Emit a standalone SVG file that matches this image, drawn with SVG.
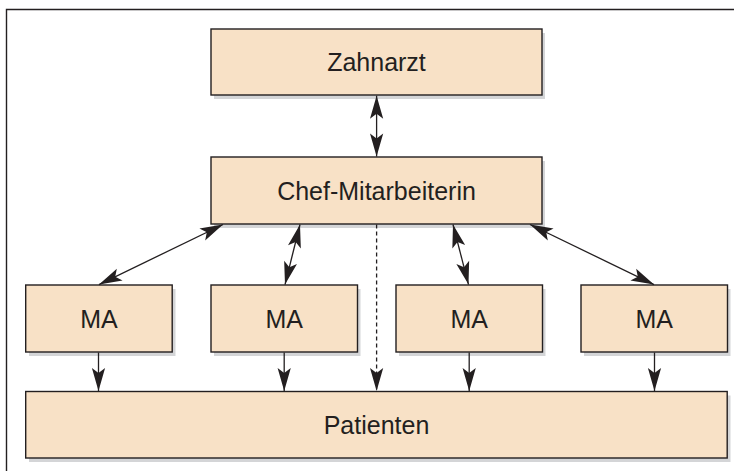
<svg xmlns="http://www.w3.org/2000/svg" width="734" height="471" viewBox="0 0 734 471">
<style>
.box{fill:#f8e1c6;stroke:#231f20;stroke-width:1.4}
.shadow{fill:#d4d5d7}
.lbl{font-family:"Liberation Sans",Arial,sans-serif;font-size:25px;fill:#231f20;text-anchor:middle}
.con{stroke:#231f20;stroke-width:1.3;fill:none}
.dash{stroke-dasharray:4,3}
</style>
<defs>
<marker id="ah" markerUnits="userSpaceOnUse" viewBox="-24 -8 25 16" refX="0" refY="0" markerWidth="25" markerHeight="16" orient="auto-start-reverse">
<path d="M0,0 L-23,-6.6 L-18,0 L-23,6.6 Z" fill="#231f20"/>
</marker>
</defs>
<rect width="734" height="471" fill="#ffffff"/>
<g id="frame">
<path d="M6.5,471 L6.5,9.5 L734,9.5" fill="none" stroke="#231f20" stroke-width="1.4"/>
</g>
<g id="zahnarzt">
<rect class="shadow" x="214" y="33" width="331" height="66"/>
<rect class="box" x="211" y="29" width="331" height="66"/>
<text class="lbl" x="376.5" y="71">Zahnarzt</text>
</g>
<g id="chef">
<rect class="shadow" x="214" y="161" width="331" height="67"/>
<rect class="box" x="211" y="157" width="331" height="67"/>
<text class="lbl" x="376.5" y="200">Chef-Mitarbeiterin</text>
</g>
<g id="ma1">
<rect class="shadow" x="29" y="289" width="146.5" height="67"/>
<rect class="box" x="25.7" y="285" width="146.5" height="67"/>
<text class="lbl" x="99" y="328">MA</text>
</g>
<g id="ma2">
<rect class="shadow" x="214" y="289" width="146.5" height="67"/>
<rect class="box" x="211" y="285" width="146.5" height="67"/>
<text class="lbl" x="284.2" y="328">MA</text>
</g>
<g id="ma3">
<rect class="shadow" x="399" y="289" width="146.5" height="67"/>
<rect class="box" x="396" y="285" width="146.5" height="67"/>
<text class="lbl" x="469.2" y="328">MA</text>
</g>
<g id="ma4">
<rect class="shadow" x="584" y="289" width="146.5" height="67"/>
<rect class="box" x="581" y="285" width="146.5" height="67"/>
<text class="lbl" x="654.2" y="328">MA</text>
</g>
<g id="patienten">
<rect class="shadow" x="29" y="395.5" width="701.5" height="66.5"/>
<rect class="box" x="25.7" y="391.5" width="701.5" height="66.5"/>
<text class="lbl" x="376.5" y="434">Patienten</text>
</g>
<g id="connectors">
<line class="con" x1="376.6" y1="95.7" x2="376.6" y2="156.6" marker-start="url(#ah)" marker-end="url(#ah)"/>
<line class="con" x1="223" y1="224.5" x2="99" y2="284.6" marker-start="url(#ah)" marker-end="url(#ah)"/>
<line class="con" x1="300" y1="224.5" x2="285" y2="284.6" marker-start="url(#ah)" marker-end="url(#ah)"/>
<line class="con" x1="453" y1="224.5" x2="468.5" y2="284.6" marker-start="url(#ah)" marker-end="url(#ah)"/>
<line class="con" x1="530" y1="224.5" x2="654" y2="284.6" marker-start="url(#ah)" marker-end="url(#ah)"/>
<line class="con dash" x1="376.6" y1="224.5" x2="376.6" y2="391" marker-end="url(#ah)"/>
<line class="con" x1="98.5" y1="352.5" x2="98.5" y2="391" marker-end="url(#ah)"/>
<line class="con" x1="284.2" y1="352.5" x2="284.2" y2="391" marker-end="url(#ah)"/>
<line class="con" x1="469.2" y1="352.5" x2="469.2" y2="391" marker-end="url(#ah)"/>
<line class="con" x1="654.5" y1="352.5" x2="654.5" y2="391" marker-end="url(#ah)"/>
</g>
</svg>
